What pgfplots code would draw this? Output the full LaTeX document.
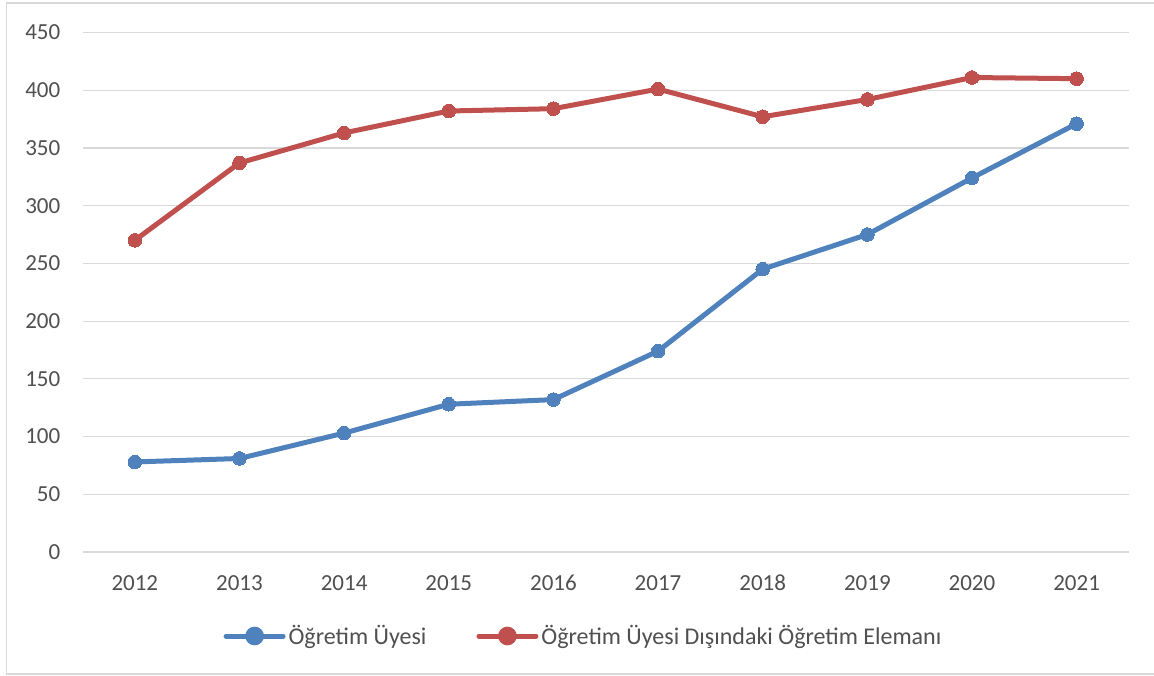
\documentclass[border=0pt]{standalone}
\usepackage{pgfplots}
\pgfplotsset{compat=1.18}
\usepackage{fontspec}
\setmainfont{Carlito}
\definecolor{blueC}{HTML}{4F81BD}
\definecolor{redC}{HTML}{C0504D}
\definecolor{gridC}{HTML}{D9D9D9}
\definecolor{txtC}{HTML}{505050}
\begin{document}
\begin{tikzpicture}[x=1pt,y=1pt]
\useasboundingbox (0,0) rectangle (1154,675);
\fill[white] (0,0) rectangle (1154,675);
\draw[gridC, line width=1.2pt] (1160,672) -- (6.5,672) -- (6.5,1) -- (1160,1);
\begin{axis}[
  at={(82.5pt,123pt)}, anchor=south west,
  scale only axis, width=1046.5pt, height=519.5pt,
  xmin=-0.5, xmax=9.5, ymin=0, ymax=450,
  xtick={0,...,9},
  xticklabels={2012,2013,2014,2015,2016,2017,2018,2019,2020,2021},
  ytick={0,50,...,450},
  /pgf/number format/assume math mode=true,
  axis line style={draw=none},
  major tick length=0pt,
  ymajorgrids, grid style={gridC, line width=1.2pt},
  tick label style={font=\fontsize{23}{27}\selectfont, text=txtC, inner sep=0pt},
  xticklabel style={anchor=center, yshift=-31pt},
  yticklabel style={anchor=east, xshift=-22pt},
  legend columns=2,
  legend style={draw=none, fill=none, at={(0.4778,-0.1617)}, anchor=center,
    font=\fontsize{24}{28}\selectfont, text=txtC,
    nodes={inner sep=0pt},
    /tikz/every odd column/.append style={column sep=3pt},
    /tikz/every even column/.append style={column sep=50pt}},
  legend cell align=left,
]
\addplot[blueC, line width=5pt, mark=*, mark size=6.8pt, mark options={fill=blueC, draw=blueC, line width=0pt},
  legend image code/.code={\draw[blueC, line width=5pt, line cap=round] (0pt,0pt) -- (57pt,0pt); \fill[blueC] (28.5pt,0pt) circle (6.8pt);}]
  coordinates {(0,78) (1,81) (2,103) (3,128) (4,132) (5,174) (6,245) (7,275) (8,324) (9,371)};
\addlegendentry{Öğretim Üyesi}
\addplot[redC, line width=5pt, mark=*, mark size=6.8pt, mark options={fill=redC, draw=redC, line width=0pt},
  legend image code/.code={\draw[redC, line width=5pt, line cap=round] (0pt,0pt) -- (57pt,0pt); \fill[redC] (28.5pt,0pt) circle (6.8pt);}]
  coordinates {(0,270) (1,337) (2,363) (3,382) (4,384) (5,401) (6,377) (7,392) (8,411) (9,410)};
\addlegendentry{Öğretim Üyesi Dışındaki Öğretim Elemanı}
\end{axis}
\end{tikzpicture}
\end{document}
